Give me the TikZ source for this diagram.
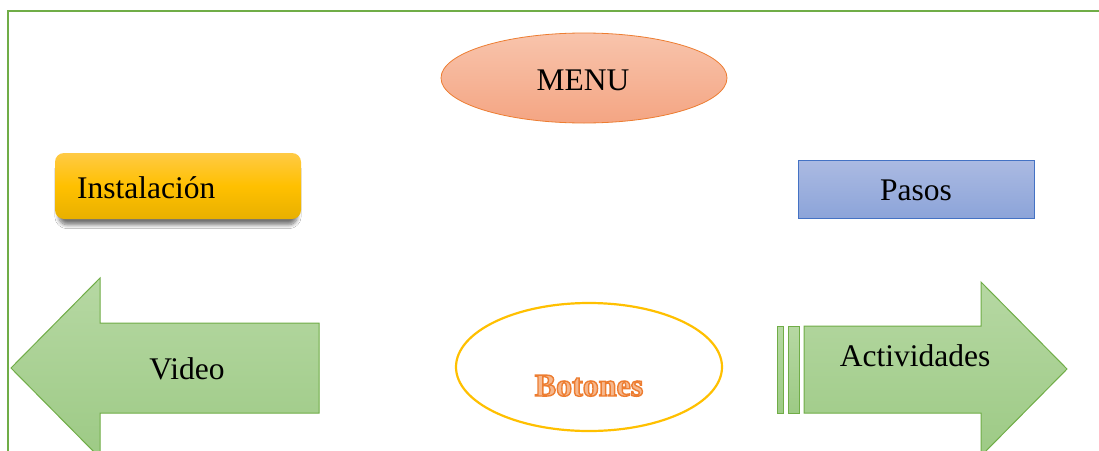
\documentclass[tikz,border=0pt]{standalone}
\usepackage{fontspec}
\setmainfont{Liberation Serif}
\usetikzlibrary{shadows.blur}
\definecolor{framegreen}{HTML}{70AD47}
\definecolor{arrowtop}{HTML}{B6D8A3}
\definecolor{arrowbot}{HTML}{9DCA85}
\definecolor{menutop}{HTML}{F8C4AC}
\definecolor{menubot}{HTML}{F4A583}
\definecolor{menuline}{HTML}{ED7D31}
\definecolor{insttop}{HTML}{FFCA45}
\definecolor{instmid}{HTML}{FFC000}
\definecolor{instbot}{HTML}{E8B000}
\definecolor{pasostop}{HTML}{ABBAE2}
\definecolor{pasosbot}{HTML}{8CA4D9}
\definecolor{pasosline}{HTML}{4472C4}
\definecolor{botline}{HTML}{FFC000}
\definecolor{botinner}{HTML}{F6B88E}
\newcommand{\outlinedtext}[1]{\special{pdf:literal direct 2 Tr 1.4 w 0.929 0.490 0.192 RG}#1\special{pdf:literal direct 0 Tr}}
\tikzset{
  lbl/.style={inner sep=0pt, anchor=base, font=\fontsize{31.5}{36}\selectfont},
  botlbl/.style={inner sep=0pt, anchor=base, font=\fontsize{32}{36}\selectfont\bfseries},
  arrowshape/.style={draw=framegreen, line width=1pt, top color=arrowtop, bottom color=arrowbot},
}
\begin{document}
\begin{tikzpicture}[x=1pt,y=-1pt]
\useasboundingbox (0,0) rectangle (1099,450);
\clip (0,0) rectangle (1099,450);
\fill[white] (0,0) rectangle (1099,450);
% frame
\draw[framegreen, line width=1.5pt] (8,460) -- (8,11) -- (1110,11);
% MENU ellipse
\path[draw=menuline, line width=0.8pt, top color=menutop, bottom color=menubot]
  (584,78) ellipse [x radius=143, y radius=45];
\node[lbl] (menu) at (583,90) {MENU};
% Instalacion box
\path[rounded corners=9pt, top color=insttop, bottom color=instbot, middle color=instmid,
  blur shadow={shadow xshift=0pt, shadow yshift=-7pt, shadow scale=0.97, shadow blur radius=4pt, shadow blur steps=8, shadow opacity=55}]
  (55,153) rectangle (301,219);
\node[lbl, anchor=base west] (inst) at (77,198) {Instalación};
% Pasos box
\path[draw=pasosline, line width=0.8pt, top color=pasostop, bottom color=pasosbot]
  (798,160) rectangle (1034,218);
\node[lbl] (pasos) at (916,200) {Pasos};
% Video arrow (left)
\path[arrowshape] (11,368) -- (100,278) -- (100,323) -- (319,323) -- (319,413) -- (100,413) -- (100,458) -- cycle;
\node[lbl] (video) at (187,379) {Video};
% Actividades arrow (right, striped)
\path[arrowshape] (777,326) rectangle (783,413);
\path[arrowshape] (788,326) rectangle (799,413);
\path[arrowshape] (804,326) -- (981,326) -- (981,282) -- (1067,369) -- (981,456) -- (981,413) -- (804,413) -- cycle;
\node[lbl] (act) at (915,366) {Actividades};
% Botones ellipse
\draw[botline, line width=2.2pt] (589,367) ellipse [x radius=133, y radius=64];
\node[botlbl, text=botinner] (bot) at (589,396) {\outlinedtext{Botones}};
\end{tikzpicture}
\end{document}
